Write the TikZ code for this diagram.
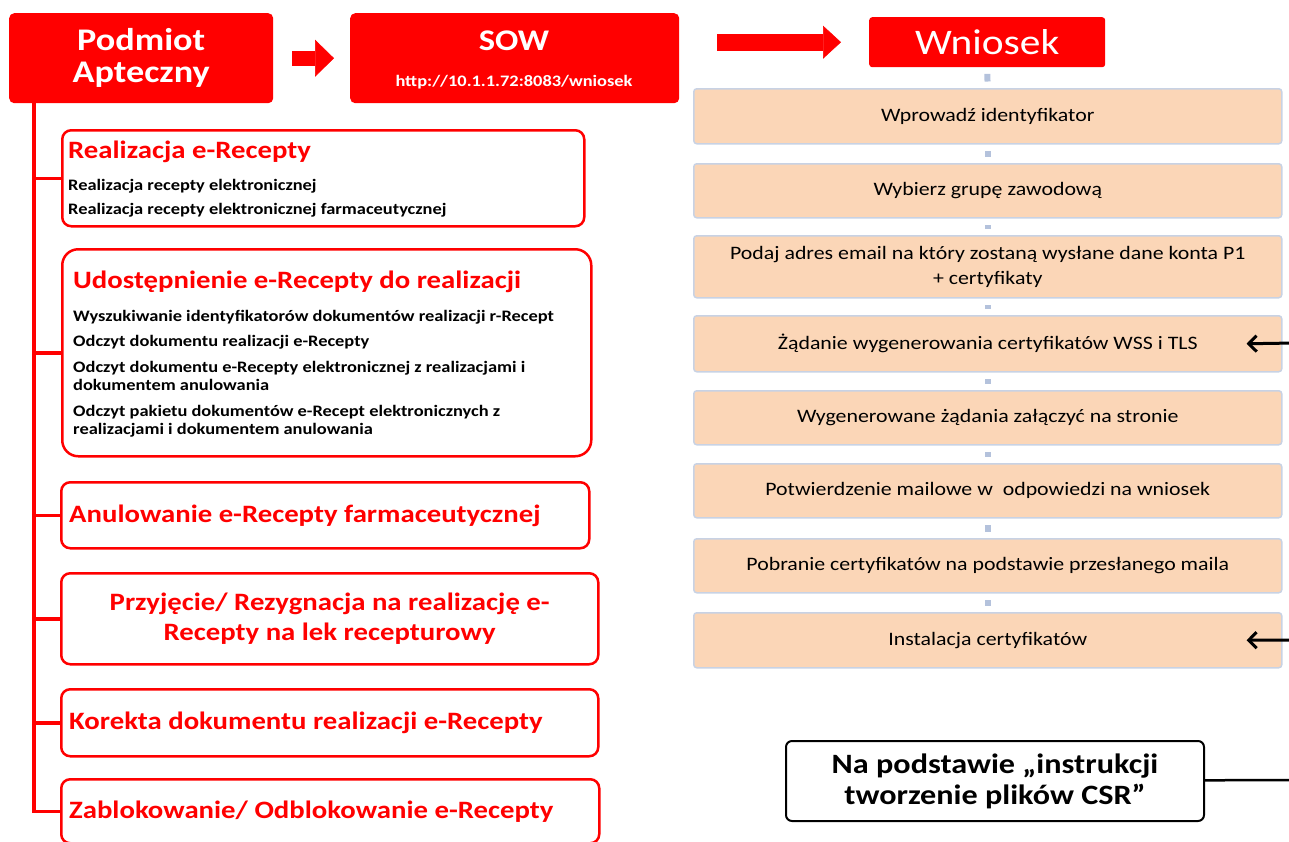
\documentclass[tikz,border=0pt]{standalone}
\usepackage{fontspec}
\setmainfont{Carlito}[FakeStretch=1.15]
\usetikzlibrary{arrows.meta,positioning}

\definecolor{sowred}{RGB}{255,0,0}
\definecolor{steppeach}{RGB}{251,214,183}
\definecolor{stepline}{RGB}{200,210,228}
\definecolor{steplinkc}{RGB}{180,194,220}

\newcommand{\fsz}[2]{\fontsize{#1}{#2}\selectfont}

\tikzset{headbox/.style = {fill=sowred, rounded corners=5pt, anchor=north west,
                           text=white, inner sep=0pt, align=center}}
\tikzset{taskbox/.style = {draw=sowred, line width=2.5pt, rounded corners=9pt,
                           fill=white, anchor=north west, inner sep=0pt}}
\tikzset{tasktitle/.style = {anchor=base west, inner sep=0pt, text=sowred,
                             font=\fsz{25}{30}\bfseries}}
\tikzset{taskitem/.style = {anchor=base west, inner sep=0pt, font=\fsz{16}{18}\bfseries}}
\tikzset{stepbox/.style = {fill=steppeach, draw=stepline, line width=1.5pt,
                           rounded corners=3pt, anchor=north west, minimum width=588pt,
                           inner sep=0pt, align=center, font=\fsz{19}{25}}}
\tikzset{steplink/.style = {draw=steplinkc, line width=6pt, shorten <=6.5pt, shorten >=6.5pt}}
\tikzset{trunk/.style = {draw=sowred, line width=3.5pt}}
\tikzset{blockarrow/.style = {draw=sowred}}
\tikzset{backarrow/.style = {line width=3pt,
                             {Straight Barb[length=8pt,width=16pt,line width=3pt]}-}}

\begin{document}
\begin{tikzpicture}[x=1pt, y=-1pt]
    \useasboundingbox (0, 0) rectangle (1289, 841);

    % naglowek
    \node [headbox, minimum width=264pt, minimum height=90pt, font=\fsz{31.5}{32}\bfseries]
        (pa) at (9, 13) {Podmiot\\Apteczny};
    \node [headbox, minimum width=329pt, minimum height=90pt] (sow) at (350, 13) {};
    \node [anchor=base, inner sep=0pt, text=white, font=\fsz{30}{30}\bfseries]
        (sowname) at (514, 50) {SOW};
    \node [anchor=base, inner sep=0pt, text=white, font=\fsz{16}{16}\bfseries]
        (sowurl) at (514, 86) {http://10.1.1.72:8083/wniosek};
    \node [headbox, rounded corners=3pt, minimum width=236pt, minimum height=50pt,
           font=\fsz{36}{36}] (wn) at (869, 17) {Wniosek};

    \draw [blockarrow, line width=15pt,
           -{Triangle[length=19pt, width=37pt, line width=0.5pt]},
           shorten <=19pt, shorten >=16pt] (pa.east) -- (sow.west);
    \draw [blockarrow, line width=17pt,
           -{Triangle[length=18pt, width=33pt, line width=0.5pt]},
           shorten <=38pt, shorten >=28pt] (sow.east |- wn.west) -- (wn.west);

    % lewa kolumna
    \node [taskbox, minimum width=522pt, minimum height=96pt] (tk1) at (61, 129) {};
    \node [taskbox, rounded corners=16pt, minimum width=529pt, minimum height=207pt]
        (tk2) at (61, 248) {};
    \node [taskbox, minimum width=528pt, minimum height=66pt] (tk3) at (60, 481) {};
    \node [taskbox, minimum width=537pt, minimum height=91pt, align=center,
           text=sowred, font=\fsz{25}{30}\bfseries]
        (tk4) at (60, 572) {Przyjęcie/ Rezygnacja na realizację e-\\Recepty na lek recepturowy};
    \node [taskbox, minimum width=537pt, minimum height=67pt] (tk5) at (60, 688) {};
    \node [taskbox, minimum width=538pt, minimum height=64pt] (tk6) at (60, 778) {};

    \node [tasktitle] (tk1t) at (68, 158) {Realizacja e-Recepty};
    \node [taskitem] (tk1a) at (68, 190) {Realizacja recepty elektronicznej};
    \node [taskitem] (tk1b) at (68, 214) {Realizacja recepty elektronicznej farmaceutycznej};

    \node [tasktitle] (tk2t) at (73, 288) {Udostępnienie e-Recepty do realizacji};
    \node [taskitem] (tk2a) at (73, 321) {Wyszukiwanie identyfikatorów dokumentów realizacji r-Recept};
    \node [taskitem] (tk2b) at (73, 346) {Odczyt dokumentu realizacji e-Recepty};
    \node [taskitem] (tk2c) at (73, 372) {Odczyt dokumentu e-Recepty elektronicznej z realizacjami i};
    \node [taskitem] (tk2d) at (73, 390) {dokumentem anulowania};
    \node [taskitem] (tk2e) at (73, 416) {Odczyt pakietu dokumentów e-Recept elektronicznych z};
    \node [taskitem] (tk2f) at (73, 434) {realizacjami i dokumentem anulowania};

    \node [tasktitle] (tk3t) at (69, 522) {Anulowanie e-Recepty farmaceutycznej};
    \node [tasktitle] (tk5t) at (69, 729) {Korekta dokumentu realizacji e-Recepty};
    \node [tasktitle] (tk6t) at (69, 818) {Zablokowanie/ Odblokowanie e-Recepty};

    \coordinate (root) at ([xshift=25pt]pa.south west);
    \draw [trunk] (root) |- (tk6.west);
    \draw [trunk] (root |- tk1.west) -- (tk1.west);
    \draw [trunk] (root |- tk2.west) -- (tk2.west);
    \draw [trunk] (root |- tk3.west) -- (tk3.west);
    \draw [trunk] (root |- tk4.west) -- (tk4.west);
    \draw [trunk] (root |- tk5.west) -- (tk5.west);

    % prawa kolumna
    \node [stepbox, minimum height=55pt] (st1) at (693, 88) {Wprowadź identyfikator};
    \node [stepbox, minimum height=54pt] (st2) at (693, 163) {Wybierz grupę zawodową};
    \node [stepbox, minimum height=62pt] (st3) at (693, 235)
        {Podaj adres email na który zostaną wysłane dane konta P1\\+ certyfikaty};
    \node [stepbox, minimum height=56pt] (st4) at (693, 315)
        {Żądanie wygenerowania certyfikatów WSS i TLS};
    \node [stepbox, minimum height=54pt] (st5) at (693, 390)
        {Wygenerowane żądania załączyć na stronie};
    \node [stepbox, minimum height=54pt] (st6) at (693, 463)
        {Potwierdzenie mailowe w\ \ odpowiedzi na wniosek};
    \node [stepbox, minimum height=54pt] (st7) at (693, 538)
        {Pobranie certyfikatów na podstawie przesłanego maila};
    \node [stepbox, minimum height=55pt] (st8) at (693, 612) {Instalacja certyfikatów};

    \draw [steplink] (wn) -- (st1);
    \draw [steplink] (st1) -- (st2);
    \draw [steplink] (st2) -- (st3);
    \draw [steplink] (st3) -- (st4);
    \draw [steplink] (st4) -- (st5);
    \draw [steplink] (st5) -- (st6);
    \draw [steplink] (st6) -- (st7);
    \draw [steplink] (st7) -- (st8);

    \coordinate (rim4) at (1295, 343);
    \coordinate (rim8) at (1295, 640);
    \draw [backarrow] ([xshift=-36pt]st4.east) -- (rim4);
    \draw [backarrow] ([xshift=-36pt]st8.east) -- (rim8);

    \node [draw, line width=2pt, rounded corners=6pt, fill=white, anchor=north west,
           minimum width=418pt, minimum height=80pt, inner sep=0pt, align=center,
           font=\fsz{28}{31}\bfseries]
        (csr) at (785, 740) {Na podstawie „instrukcji\\tworzenie plików CSR”};
    \coordinate (rimcsr) at (1295, 780);
    \draw [line width=2.5pt] (csr) -- (rimcsr);
\end{tikzpicture}
\end{document}
